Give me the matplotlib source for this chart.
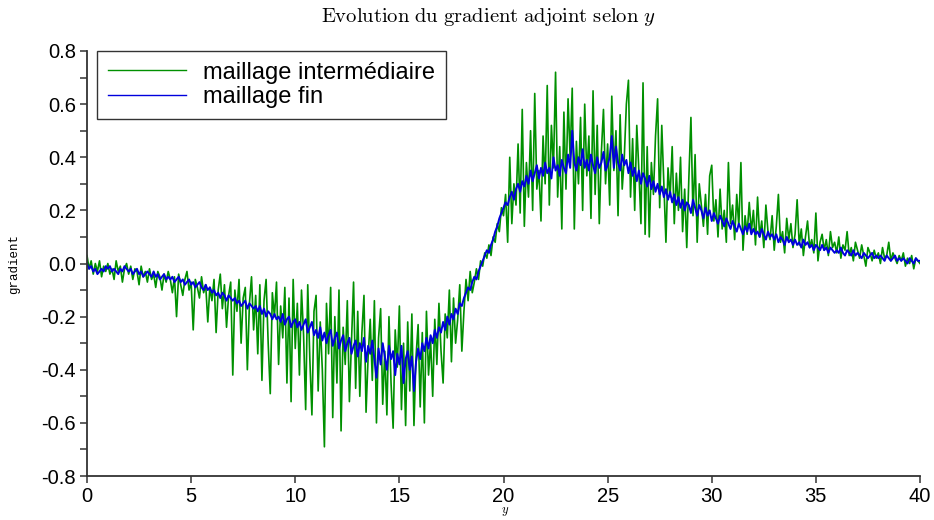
import numpy as np
import matplotlib
matplotlib.use("Agg")
import matplotlib.pyplot as plt
from matplotlib.ticker import MultipleLocator

plt.rcParams['mathtext.fontset'] = 'cm'

# abscissa: 0 .. 40 with a step of 0.1 (401 points per curve)
y_start, y_stop, y_step = 0.0, 40.0, 0.1

# gradient values, in hundredths (one row = one unit of y)
grad_inter_pct = [
    3, -2, 1, -4, 0, -3, 1, -5, -1, -3,
    0, -4, -2, -6, 1, -3, -1, -7, -2, 0,
    -4, -1, -6, -2, -3, -8, -1, -5, -3, -7,
    -2, -6, -4, -9, -3, -5, -10, -4, -7, -3,
    -6, -11, -5, -20, -4, -8, -12, -6, -3, -10,
    -7, -25, -6, -9, -13, -5, -11, -8, -22, -9,
    -14, -6, -26, -10, -4, -17, -8, -24, -12, -7,
    -42, -10, -18, -6, -30, -13, -9, -40, -15, -5,
    -25, -12, -34, -8, -44, -14, -6, -30, -49, -11,
    -20, -7, -38, -16, -28, -9, -45, -13, -52, -6,
    -32, -15, -42, -10, -27, -55, -8, -36, -57, -18,
    -12, -48, -22, -40, -69, -15, -34, -9, -58, -20,
    -45, -10, -63, -24, -38, -14, -52, -30, -7, -47,
    -18, -50, -26, -12, -56, -35, -21, -44, -14, -60,
    -28, -17, -53, -33, -57, -20, -45, -62, -25, -39,
    -16, -55, -30, -61, -22, -48, -19, -61, -35, -23,
    -54, -26, -60, -18, -42, -29, -50, -21, -38, -15,
    -33, -45, -19, -28, -10, -37, -13, -30, -21, -8,
    -33, -18, -6, -14, -3, -11, -7, -2, -6, 1,
    -1, 4, 2, 7, 3, 10, 8, 15, 12, 21,
    18, 26, 8, 40, 15, 30, 22, 45, 19, 58,
    14, 38, 25, 50, 20, 64, 28, 35, 16, 48,
    30, 67, 22, 52, 36, 72, 25, 44, 13, 57,
    28, 62, 40, 66, 13, 46, 30, 55, 20, 60,
    33, 48, 17, 65, 26, 52, 15, 42, 58, 30,
    45, 22, 63, 35, 50, 18, 56, 28, 40, 60,
    69, 25, 47, 20, 52, 35, 15, 68, 11, 44,
    10, 38, 26, 48, 62, 21, 52, 30, 8, 36,
    25, 44, 15, 34, 20, 40, 12, 28, 6, 32,
    55, 18, 41, 8, 30, 22, 14, 26, 11, 33,
    37, 16, 24, 10, 28, 13, 20, 8, 38, 15,
    22, 9, 26, 14, 38, 5, 18, 11, 23, 12,
    20, 7, 25, 10, 16, 6, 22, 12, 9, 18,
    5, 14, 26, 8, 12, 4, 17, 9, 15, 6,
    11, 24, 7, 13, 3, 10, 16, 6, 9, 4,
    19, 1, 8, 11, 5, 9, 3, 12, 6, 8,
    4, 10, 2, 7, 5, 12, 3, 6, 1, 8,
    5, 2, 7, 3, -1, 6, 4, 1, 5, 2,
    4, 0, 6, 2, 3, 8, 1, 4, 2, 0,
    3, 1, 4, -1, 2, 0, 3, -2, 2, 1,
    0,
]

grad_fin_pct = [
    0, -2, -1, -3, -2, -4, -3, -2, -3, -1,
    -2, -1, -3, -2, -3, -4, -2, -3, -1, -2,
    -3, -2, -4, -3, -2, -4, -3, -5, -4, -3,
    -4, -5, -3, -5, -4, -6, -5, -4, -6, -5,
    -6, -5, -7, -6, -5, -7, -6, -8, -7, -6,
    -8, -7, -9, -8, -7, -9, -10, -8, -10, -9,
    -11, -10, -12, -11, -13, -11, -12, -14, -12, -13,
    -14, -13, -15, -14, -16, -15, -14, -17, -15, -16,
    -17, -16, -18, -16, -19, -17, -20, -18, -19, -21,
    -19, -21, -20, -22, -19, -23, -21, -20, -24, -22,
    -21, -24, -22, -25, -23, -21, -26, -24, -22, -27,
    -25, -28, -24, -29, -26, -30, -27, -25, -31, -28,
    -26, -32, -29, -27, -33, -30, -28, -34, -31, -29,
    -35, -30, -33, -28, -37, -31, -34, -29, -36, -43,
    -32, -38, -30, -35, -40, -31, -36, -33, -42, -34,
    -38, -31, -45, -36, -33, -40, -35, -48, -37, -32,
    -36, -30, -33, -28, -32, -27, -30, -25, -28, -24,
    -26, -22, -25, -20, -23, -19, -21, -17, -19, -15,
    -16, -13, -11, -9, -10, -7, -5, -6, -3, -1,
    1, 3, 5, 4, 7, 9, 12, 14, 17, 19,
    21, 23, 22, 25, 27, 24, 28, 30, 27, 31,
    29, 33, 30, 35, 31, 34, 37, 32, 36, 33,
    38, 34, 36, 32, 40, 35, 37, 33, 39, 36,
    34, 41, 36, 50, 38, 35, 40, 37, 43, 36,
    39, 35, 41, 37, 34, 40, 36, 38, 42, 35,
    37, 40, 48, 36, 44, 38, 35, 41, 37, 39,
    34, 38, 33, 36, 31, 35, 30, 34, 32, 29,
    33, 28, 31, 27, 30, 26, 29, 25, 28, 24,
    27, 23, 26, 22, 25, 21, 24, 20, 23, 22,
    19, 24, 21, 18, 22, 20, 17, 21, 18, 20,
    16, 19, 17, 15, 18, 16, 14, 17, 15, 13,
    16, 14, 12, 15, 13, 11, 14, 12, 15, 11,
    13, 11, 12, 10, 13, 11, 9, 12, 10, 11,
    9, 11, 8, 10, 9, 7, 10, 8, 9, 7,
    9, 7, 8, 6, 9, 7, 8, 6, 7, 5,
    7, 6, 5, 7, 5, 6, 4, 6, 5, 4,
    5, 4, 6, 4, 3, 5, 4, 3, 5, 3,
    4, 3, 2, 4, 3, 2, 3, 4, 2, 3,
    2, 3, 2, 1, 3, 2, 1, 2, 3, 1,
    2, 1, 2, 1, 0, 2, 1, 0, 2, 1,
    1,
]

labels = ["maillage intermédiaire", "maillage fin"]

y_inter = np.linspace(y_start, y_stop, len(grad_inter_pct))
y_fin = np.linspace(y_start, y_stop, len(grad_fin_pct))
g_inter = np.array(grad_inter_pct) / 100.0
g_fin = np.array(grad_fin_pct) / 100.0

fig = plt.figure(figsize=(9.34, 5.2), dpi=100)
ax = fig.add_axes([87 / 934, 44 / 520, 833 / 934, 425 / 520])

ax.plot(y_inter, g_inter, color='#009000', lw=1.2, label=labels[0])
ax.plot(y_fin, g_fin, color='#0000dd', lw=1.4, label=labels[1])

ax.set_xlim(0, 40)
ax.set_ylim(-0.8, 0.8)
ax.xaxis.set_major_locator(MultipleLocator(5))
ax.yaxis.set_major_locator(MultipleLocator(0.2))
ax.yaxis.set_minor_locator(MultipleLocator(0.1))
ax.yaxis.set_major_formatter(plt.FuncFormatter(lambda v, p: f"{v:.1f}"))

for s in ['top', 'right']:
    ax.spines[s].set_visible(False)
for s in ['left', 'bottom']:
    ax.spines[s].set_linewidth(1.3)
    ax.spines[s].set_color('#333333')

ax.tick_params(axis='both', which='major', direction='out', length=5, width=1.1,
               labelsize=14.5, colors='#333333', labelcolor='black', pad=3)
ax.tick_params(axis='y', which='minor', direction='out', length=5, width=1.1, colors='#333333')
for lab in ax.get_xticklabels() + ax.get_yticklabels():
    lab.set_family('Liberation Sans')

leg = ax.legend(loc='upper left', bbox_to_anchor=(0.012, 1.0), fancybox=False,
                frameon=True, edgecolor='black', handlelength=3.3, handletextpad=0.75,
                borderpad=0.45, labelspacing=0.1, borderaxespad=0,
                prop={'family': 'Liberation Sans', 'size': 17})
leg.get_frame().set_linewidth(1.0)
for line in leg.get_lines():
    line.set_linewidth(1.0)

fig.text(488 / 934, 1 - 17 / 520, r"$\mathrm{Evolution\ du\ gradient\ adjoint\ selon\ }y$",
         ha='center', va='center', fontsize=14.8)
fig.text(505 / 934, 1 - 512 / 520, r"$y$", ha='center', va='center', fontsize=9)
fig.text(14 / 934, 1 - 264 / 520, "gradient", rotation=90, ha='center', va='center',
         fontsize=9, family='Liberation Mono')

fig.savefig("out.png", dpi=100)
